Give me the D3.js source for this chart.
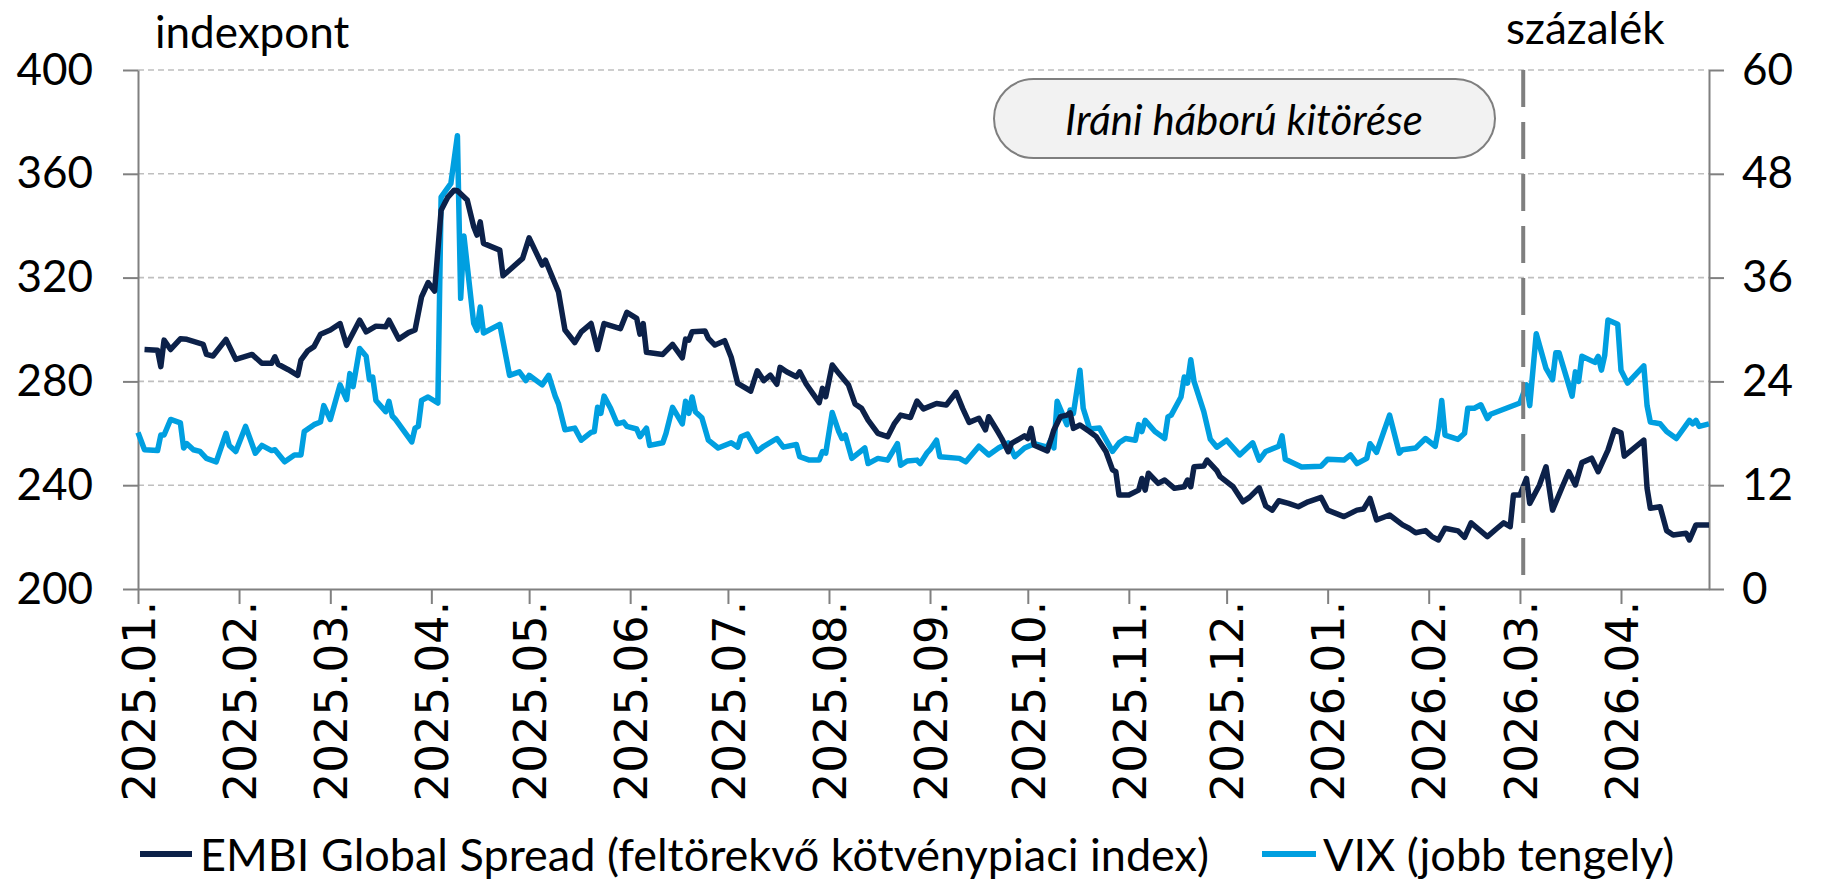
<!DOCTYPE html>
<html lang="hu">
<head>
    <meta charset="UTF-8"/>
    <title>EMBI Global Spread és VIX</title>
    <script src="https://d3js.org/d3.v7.min.js"></script>
    <style>
        body { margin: 0; background: #fff; }
        svg { display: block; font-family: Lato, "Open Sans", sans-serif; }
    </style>
</head>
<body>
<script>
    // ---- data ----
    var embiDates = [
        "2025-01-03","2025-01-07","2025-01-08","2025-01-09","2025-01-11","2025-01-14","2025-01-16","2025-01-21","2025-01-22","2025-01-24",
        "2025-01-28","2025-01-31","2025-02-05","2025-02-08","2025-02-11","2025-02-12","2025-02-13","2025-02-16","2025-02-19","2025-02-20",
        "2025-02-22","2025-02-24","2025-02-26","2025-03-01","2025-03-04","2025-03-06","2025-03-10","2025-03-12","2025-03-15","2025-03-18",
        "2025-03-19","2025-03-22","2025-03-25","2025-03-27","2025-03-29","2025-03-31","2025-04-02","2025-04-04","2025-04-06","2025-04-08",
        "2025-04-09","2025-04-12","2025-04-14","2025-04-15","2025-04-16","2025-04-17","2025-04-22","2025-04-23","2025-04-29","2025-05-01",
        "2025-05-05","2025-05-06","2025-05-10","2025-05-12","2025-05-15","2025-05-17","2025-05-20","2025-05-22","2025-05-24","2025-05-29",
        "2025-05-31","2025-06-03","2025-06-04","2025-06-05","2025-06-06","2025-06-11","2025-06-14","2025-06-17","2025-06-18","2025-06-19",
        "2025-06-20","2025-06-24","2025-06-25","2025-06-27","2025-06-30","2025-07-02","2025-07-04","2025-07-08","2025-07-10","2025-07-12",
        "2025-07-14","2025-07-16","2025-07-17","2025-07-19","2025-07-22","2025-07-23","2025-07-25","2025-07-27","2025-07-29","2025-07-30",
        "2025-07-31","2025-08-02","2025-08-04","2025-08-07","2025-08-09","2025-08-11","2025-08-13","2025-08-16","2025-08-19","2025-08-21",
        "2025-08-23","2025-08-26","2025-08-28","2025-08-30","2025-09-03","2025-09-06","2025-09-09","2025-09-11","2025-09-13","2025-09-16",
        "2025-09-18","2025-09-19","2025-09-22","2025-09-23","2025-09-25","2025-09-26","2025-09-30","2025-10-01","2025-10-02","2025-10-03",
        "2025-10-07","2025-10-09","2025-10-11","2025-10-13","2025-10-14","2025-10-15","2025-10-17","2025-10-20","2025-10-22","2025-10-25",
        "2025-10-27","2025-10-28","2025-10-29","2025-11-01","2025-11-04","2025-11-05","2025-11-06","2025-11-07","2025-11-10","2025-11-12",
        "2025-11-15","2025-11-18","2025-11-19","2025-11-20","2025-11-21","2025-11-24","2025-11-25","2025-11-28","2025-11-29","2025-12-03",
        "2025-12-06","2025-12-08","2025-12-11","2025-12-13","2025-12-15","2025-12-17","2025-12-20","2025-12-23","2025-12-26","2025-12-30",
        "2026-01-01","2026-01-06","2026-01-10","2026-01-12","2026-01-14","2026-01-16","2026-01-20","2026-01-24","2026-01-26","2026-01-28",
        "2026-01-31","2026-02-02","2026-02-04","2026-02-06","2026-02-10","2026-02-12","2026-02-14","2026-02-16","2026-02-19","2026-02-22",
        "2026-02-24","2026-02-26","2026-02-27","2026-03-01","2026-03-03","2026-03-04","2026-03-07","2026-03-09","2026-03-11","2026-03-14",
        "2026-03-16","2026-03-18","2026-03-20","2026-03-23","2026-03-25","2026-03-28","2026-03-30","2026-04-01","2026-04-02","2026-04-08",
        "2026-04-09","2026-04-10","2026-04-13","2026-04-15","2026-04-17","2026-04-21","2026-04-22","2026-04-24","2026-04-28"
    ];
    var embiValues = [
        292.3,292.0,285.7,295.9,292.3,296.4,296.2,294.3,290.4,289.8,
        296.2,288.5,290.4,287.0,287.0,289.5,286.6,284.6,282.3,288.2,
        291.7,293.4,298.2,299.8,302.3,293.9,303.6,299.1,301.3,301.1,
        303.6,296.3,298.8,299.8,312.6,318.1,314.8,346.0,350.9,353.7,
        353.5,349.9,339.6,336.4,341.5,333.2,330.6,320.7,327.4,335.3,
        324.8,326.7,314.5,299.8,295.0,299.1,302.3,292.3,302.3,300.3,
        306.6,304.3,298.2,302.3,291.2,290.4,294.3,289.1,296.3,295.9,
        299.1,299.4,296.6,294.0,295.7,289.3,279.2,276.3,284.1,280.3,
        282.4,278.9,285.4,283.7,281.8,283.7,279.0,275.4,271.8,277.3,
        274.1,286.3,283.1,278.6,271.3,269.6,265.1,260.0,258.7,263.6,
        267.0,266.1,272.4,269.4,271.5,270.9,275.8,269.6,264.2,265.8,
        261.3,266.4,260.2,258.0,252.9,256.1,259.0,258.0,261.9,255.4,
        253.2,261.3,266.4,267.0,267.9,261.9,263.2,260.6,258.7,252.9,
        245.9,245.2,236.2,236.2,238.1,242.6,238.1,244.6,240.7,242.0,
        238.8,239.4,242.0,239.4,247.1,247.4,249.7,245.6,243.3,239.4,
        233.6,235.3,239.0,232.0,230.4,234.0,233.0,231.7,233.6,235.3,
        230.4,227.9,230.4,230.8,234.9,226.6,228.5,224.7,223.4,221.7,
        222.5,220.2,218.9,223.4,222.4,219.9,225.5,223.4,220.2,223.4,
        225.5,224.0,236.2,236.2,242.6,233.0,240.1,247.1,230.4,239.4,
        245.2,240.1,248.7,250.4,245.2,253.5,261.3,260.2,251.2,257.4,
        238.8,231.1,231.7,222.5,220.8,221.5,218.9,224.7,224.7
    ];

    var vixDates = [
        "2025-01-01","2025-01-03","2025-01-07","2025-01-08","2025-01-09","2025-01-11","2025-01-14","2025-01-15","2025-01-16","2025-01-18",
        "2025-01-20","2025-01-22","2025-01-25","2025-01-28","2025-01-29","2025-01-31","2025-02-03","2025-02-06","2025-02-08","2025-02-11",
        "2025-02-12","2025-02-15","2025-02-18","2025-02-20","2025-02-21","2025-02-24","2025-02-26","2025-02-27","2025-03-01","2025-03-04",
        "2025-03-06","2025-03-07","2025-03-08","2025-03-10","2025-03-12","2025-03-13","2025-03-14","2025-03-15","2025-03-18","2025-03-19",
        "2025-03-20","2025-03-21","2025-03-26","2025-03-27","2025-03-28","2025-03-29","2025-03-31","2025-04-03","2025-04-04","2025-04-07",
        "2025-04-09","2025-04-10","2025-04-11","2025-04-14","2025-04-15","2025-04-16","2025-04-17","2025-04-22","2025-04-25","2025-04-28",
        "2025-04-30","2025-05-01","2025-05-05","2025-05-07","2025-05-09","2025-05-10","2025-05-12","2025-05-15","2025-05-17","2025-05-20",
        "2025-05-21","2025-05-22","2025-05-23","2025-05-24","2025-05-26","2025-05-28","2025-05-30","2025-05-31","2025-06-03","2025-06-04",
        "2025-06-06","2025-06-07","2025-06-11","2025-06-12","2025-06-14","2025-06-17","2025-06-18","2025-06-19","2025-06-20","2025-06-21",
        "2025-06-23","2025-06-25","2025-06-28","2025-07-02","2025-07-04","2025-07-05","2025-07-07","2025-07-10","2025-07-12","2025-07-16",
        "2025-07-18","2025-07-22","2025-07-23","2025-07-26","2025-07-29","2025-07-30","2025-07-31","2025-08-02","2025-08-04","2025-08-05",
        "2025-08-06","2025-08-08","2025-08-12","2025-08-13","2025-08-16","2025-08-19","2025-08-22","2025-08-23","2025-08-25","2025-08-28",
        "2025-08-29","2025-08-31","2025-09-01","2025-09-03","2025-09-04","2025-09-10","2025-09-12","2025-09-16","2025-09-19","2025-09-22",
        "2025-09-25","2025-09-27","2025-09-30","2025-10-03","2025-10-07","2025-10-08","2025-10-09","2025-10-10","2025-10-13","2025-10-14",
        "2025-10-15","2025-10-17","2025-10-18","2025-10-19","2025-10-20","2025-10-23","2025-10-27","2025-10-29","2025-10-31","2025-11-03",
        "2025-11-04","2025-11-05","2025-11-06","2025-11-09","2025-11-12","2025-11-13","2025-11-14","2025-11-17","2025-11-18","2025-11-19",
        "2025-11-20","2025-11-21","2025-11-24","2025-11-26","2025-11-28","2025-12-01","2025-12-05","2025-12-09","2025-12-11","2025-12-13",
        "2025-12-17","2025-12-18","2025-12-19","2025-12-24","2025-12-30","2026-01-01","2026-01-06","2026-01-08","2026-01-10","2026-01-13",
        "2026-01-14","2026-01-16","2026-01-20","2026-01-23","2026-01-24","2026-01-28","2026-01-31","2026-02-03","2026-02-04","2026-02-05",
        "2026-02-06","2026-02-10","2026-02-12","2026-02-13","2026-02-15","2026-02-17","2026-02-19","2026-02-20","2026-03-01","2026-03-03",
        "2026-03-04","2026-03-06","2026-03-09","2026-03-11","2026-03-12","2026-03-13","2026-03-17","2026-03-18","2026-03-19","2026-03-20",
        "2026-03-24","2026-03-25","2026-03-26","2026-03-27","2026-03-28","2026-03-31","2026-04-01","2026-04-03","2026-04-08","2026-04-09",
        "2026-04-10","2026-04-13","2026-04-15","2026-04-18","2026-04-22","2026-04-23","2026-04-24","2026-04-25","2026-04-28"
    ];
    var vixValues = [
        18.1,16.1,16.0,17.8,17.8,19.6,19.2,16.3,16.8,16.1,
        15.9,15.1,14.7,18.0,16.6,15.9,18.8,15.7,16.6,16.0,
        16.1,14.7,15.5,15.5,18.2,19.0,19.3,21.2,19.6,23.6,
        21.9,24.9,23.4,27.8,26.9,24.2,24.5,21.8,20.5,21.7,
        20.0,19.6,17.0,18.6,18.8,21.8,22.2,21.5,45.3,46.9,
        52.4,33.6,40.8,30.7,29.9,32.6,29.6,30.6,24.7,25.1,
        24.1,24.7,23.6,24.7,22.3,21.4,18.4,18.6,17.2,18.1,
        18.2,21.0,20.3,22.3,20.9,19.1,19.3,18.8,18.5,17.6,
        18.6,16.6,16.9,18.0,21.0,19.1,21.7,20.3,22.2,20.5,
        19.8,17.2,16.3,16.9,16.4,17.6,17.9,15.9,16.5,17.4,
        16.4,16.7,15.3,14.9,14.9,15.9,15.7,20.4,18.2,17.4,
        17.8,15.1,16.3,14.5,15.1,14.9,16.8,14.3,14.8,14.9,
        14.5,15.7,16.1,17.2,15.3,15.1,14.7,16.5,15.5,16.3,
        16.9,15.3,16.3,16.8,16.4,17.2,16.3,21.7,19.0,20.7,
        20.3,25.3,20.9,19.7,18.5,18.6,15.9,16.9,17.4,17.2,
        19.0,18.2,19.5,18.2,17.4,19.9,20.1,22.2,24.5,23.8,
        26.5,24.0,20.5,17.3,16.4,17.2,15.5,16.9,14.9,15.9,
        16.5,17.7,15.0,14.1,14.2,15.0,14.9,15.5,14.5,15.1,
        16.8,15.8,20.1,15.7,16.1,16.3,17.4,16.5,18.5,21.8,
        17.8,17.3,18.0,20.9,20.9,21.3,19.7,20.2,21.5,23.6,
        21.2,29.5,25.5,24.2,27.3,27.3,22.3,25.1,24.0,26.9,
        26.2,26.9,25.3,27.0,31.1,30.6,25.3,23.8,25.8,21.2,
        19.3,19.1,18.2,17.4,19.5,19.1,19.5,18.8,19.1
    ];

    var leftTicks = [200, 240, 280, 320, 360, 400];
    var rightTicks = [0, 12, 24, 36, 48, 60];
    var eventDate = "2026-03-02";
    var eventLabel = "Iráni háború kitörése";
    var seriesNames = ["EMBI Global Spread (feltörekvő kötvénypiaci index)", "VIX (jobb tengely)"];
    var seriesColors = ["#0c2149", "#009fe0"];

    // ---- layout ----
    var w = 1826, h = 882;
    var plotLeft = 138, plotRight = 1709, plotTop = 70, plotBottom = 589;
    var parseDate = d3.timeParse("%Y-%m-%d");

    var svg = d3.select("body").append("svg")
        .attr("width", w)
        .attr("height", h);

    var xScale = d3.scaleTime()
        .domain([parseDate("2025-01-01"), parseDate("2026-04-28")])
        .range([plotLeft, plotRight]);

    var yLeft = d3.scaleLinear().domain([200, 400]).range([plotBottom, plotTop]);
    var yRight = d3.scaleLinear().domain([0, 60]).range([plotBottom, plotTop]);

    // gridlines
    svg.append("g")
        .selectAll("line")
        .data(leftTicks.slice(1))
        .join("line")
        .attr("x1", plotLeft).attr("x2", plotRight)
        .attr("y1", d => yLeft(d)).attr("y2", d => yLeft(d))
        .attr("stroke", "#bfbfbf")
        .attr("stroke-width", 1.6)
        .attr("stroke-dasharray", "6,4");

    // axes
    var axisColor = "#808080";

    var gLeft = svg.append("g")
        .attr("transform", "translate(" + plotLeft + ",0)")
        .call(d3.axisLeft(yLeft).tickValues(leftTicks).tickSize(15).tickPadding(30).tickSizeOuter(0));

    var gRight = svg.append("g")
        .attr("transform", "translate(" + plotRight + ",0)")
        .call(d3.axisRight(yRight).tickValues(rightTicks).tickSize(15).tickPadding(18).tickSizeOuter(0));

    var gBottom = svg.append("g")
        .attr("transform", "translate(0," + plotBottom + ")")
        .call(d3.axisBottom(xScale)
            .ticks(d3.timeMonth.every(1))
            .tickFormat(d3.timeFormat("%Y.%m."))
            .tickSize(15)
            .tickSizeOuter(0));

    [gLeft, gRight, gBottom].forEach(function (g) {
        g.select(".domain").attr("stroke", axisColor).attr("stroke-width", 2);
        g.selectAll(".tick line").attr("stroke", axisColor).attr("stroke-width", 2);
    });

    gLeft.selectAll("text")
        .attr("font-family", "Lato")
        .attr("font-size", 44)
        .attr("fill", "#000");

    gRight.selectAll("text")
        .attr("font-family", "Lato")
        .attr("font-size", 44)
        .attr("fill", "#000");

    gBottom.selectAll("text")
        .attr("font-family", "DejaVu Sans")
        .attr("font-size", 45)
        .attr("fill", "#000")
        .attr("transform", "rotate(-90)")
        .attr("text-anchor", "end")
        .attr("x", -12)
        .attr("y", 0)
        .attr("dy", "0.36em");

    // axis titles
    svg.append("text")
        .attr("x", 155).attr("y", 48)
        .attr("font-size", 44)
        .text("indexpont");

    svg.append("text")
        .attr("x", 1506).attr("y", 44)
        .attr("font-size", 44)
        .text("százalék");

    // lines
    var embi = d3.zip(embiDates, embiValues).map(d => ({date: parseDate(d[0]), value: d[1]}));
    var vix = d3.zip(vixDates, vixValues).map(d => ({date: parseDate(d[0]), value: d[1]}));

    svg.append("path")
        .datum(vix)
        .attr("fill", "none")
        .attr("stroke", seriesColors[1])
        .attr("stroke-width", 5.5)
        .attr("stroke-linejoin", "round")
        .attr("d", d3.line().x(d => xScale(d.date)).y(d => yRight(d.value)));

    svg.append("path")
        .datum(embi)
        .attr("fill", "none")
        .attr("stroke", seriesColors[0])
        .attr("stroke-width", 5.5)
        .attr("stroke-linejoin", "round")
        .attr("d", d3.line().x(d => xScale(d.date)).y(d => yLeft(d.value)));

    // event marker
    var ex = xScale(parseDate(eventDate));
    svg.append("line")
        .attr("x1", ex).attr("x2", ex)
        .attr("y1", plotTop).attr("y2", plotBottom)
        .attr("stroke", "#7f7f7f")
        .attr("stroke-width", 4)
        .attr("stroke-dasharray", "37,15");

    var callout = svg.append("g");
    callout.append("rect")
        .attr("x", 994).attr("y", 79)
        .attr("width", 501).attr("height", 79)
        .attr("rx", 39.5)
        .attr("fill", "#f2f2f2")
        .attr("stroke", "#7f7f7f")
        .attr("stroke-width", 2);
    callout.append("text")
        .attr("x", 1244).attr("y", 119)
        .attr("text-anchor", "middle")
        .attr("dominant-baseline", "central")
        .attr("font-style", "italic")
        .attr("font-size", 42)
        .text(eventLabel);

    // legend
    var legendItems = [
        {x1: 140, x2: 192, tx: 200},
        {x1: 1262, x2: 1316, tx: 1323}
    ];
    var legend = svg.append("g");
    legendItems.forEach(function (item, i) {
        legend.append("line")
            .attr("x1", item.x1).attr("x2", item.x2)
            .attr("y1", 854).attr("y2", 854)
            .attr("stroke", seriesColors[i])
            .attr("stroke-width", 6);
        legend.append("text")
            .attr("x", item.tx).attr("y", 854)
            .attr("dominant-baseline", "central")
            .attr("font-size", 45)
            .text(seriesNames[i]);
    });
</script>
</body>
</html>
